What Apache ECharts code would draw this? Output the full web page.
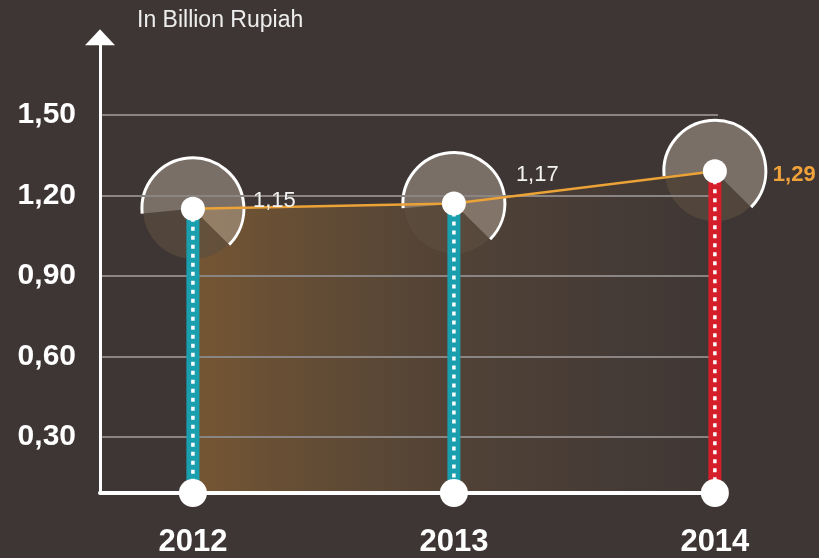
<!DOCTYPE html>
<html>
<head>
<meta charset="utf-8">
<script src="https://cdn.jsdelivr.net/npm/echarts@6/dist/echarts.min.js"></script>
<style>
  html, body { margin: 0; padding: 0; background: #3e3634; }
  #chart { width: 819px; height: 558px; }
</style>
</head>
<body>
<div id="chart"></div>
<script>
// ---- data ----
const years = [2012, 2013, 2014];
const values = [1.15, 1.17, 1.29];
const yTicks = [0.30, 0.60, 0.90, 1.20, 1.50];
const unitLabel = 'In Billion Rupiah';

// ---- styling ----
const barColors = ['#1a9fae', '#1a9fae', '#d41f2a'];
const labelOffsets = [[48, -8], [50, -28], [46, 4]];
const labelColors = ['#f2f2f2', '#f2f2f2', '#f0a23a'];
const labelWeights = ['normal', 'normal', 'bold'];

const Y_MIN = 0.09, Y_MAX = 1.79;
const FONT = "'Liberation Sans', Arial, sans-serif";
const fmt = v => v.toFixed(2).replace('.', ',');

const points = years.map((y, i) => [y, values[i]]);
const basePoints = years.map(y => [y, Y_MIN]);

const chart = echarts.init(document.getElementById('chart'));

// Highlight disc with a white arc around each top point
function renderDisc(params, api) {
  const c = api.coord([api.value(0), api.value(1)]);
  const R = 50;
  const a0 = Math.PI * 0.97;
  const a1 = Math.PI * 2 + 0.78;
  return {
    type: 'group',
    children: [
      { type: 'sector', shape: { cx: c[0], cy: c[1], r0: 0, r: R, startAngle: 0.78, endAngle: a0, clockwise: true },
        style: { fill: 'rgba(92,78,64,0.65)' } },
      { type: 'sector', shape: { cx: c[0], cy: c[1], r0: 0, r: R, startAngle: a0, endAngle: a1, clockwise: true },
        style: { fill: 'rgba(182,167,153,0.5)' } },
      { type: 'arc', shape: { cx: c[0], cy: c[1], r: R + 1, startAngle: a0, endAngle: a1, clockwise: true },
        style: { stroke: '#ffffff', lineWidth: 3, fill: null } }
    ]
  };
}

// Vertical bar with a dashed white centre line
function renderBar(params, api) {
  const x = api.value(0), v = api.value(1);
  const top = api.coord([x, v]);
  const bot = api.coord([x, Y_MIN]);
  const w = 13;
  return {
    type: 'group',
    children: [
      { type: 'rect', shape: { x: top[0] - w / 2, y: top[1], width: w, height: bot[1] - top[1] },
        style: { fill: barColors[params.dataIndex] } },
      { type: 'line', shape: { x1: top[0], y1: top[1], x2: bot[0], y2: bot[1] },
        style: { stroke: '#ffffff', lineWidth: 3.5, lineDash: [4, 5] } }
    ]
  };
}

chart.setOption({
  backgroundColor: '#3e3634',
  animation: false,
  title: {
    text: unitLabel,
    left: 137, top: 9, padding: 0,
    textStyle: { color: '#eeeeee', fontSize: 23, fontWeight: 'normal', fontFamily: FONT }
  },
  grid: { left: 100, right: 101, top: 37.2, bottom: 64.7, containLabel: false },
  xAxis: {
    type: 'value',
    min: 2011.644, max: 2014.012,
    z: 1,
    axisLine: { onZero: false, lineStyle: { color: '#ffffff', width: 4 } },
    axisTick: { show: false },
    splitLine: { show: false },
    axisLabel: {
      customValues: years,
      formatter: v => String(v),
      color: '#ffffff', fontSize: 31, fontWeight: 'bold', fontFamily: FONT, margin: 34
    }
  },
  yAxis: {
    type: 'value',
    min: Y_MIN, max: Y_MAX,
    z: 1,
    axisLine: { show: true, symbol: ['none', 'triangle'], symbolSize: [30, 16],
      lineStyle: { color: '#ffffff', width: 3 } },
    axisTick: { show: false, customValues: yTicks },
    splitLine: { show: true, lineStyle: { color: '#8a8582', width: 2 } },
    axisLabel: {
      customValues: yTicks,
      formatter: v => fmt(v),
      color: '#ffffff', fontSize: 30, fontWeight: 'bold', fontFamily: FONT, margin: 24
    }
  },
  series: [
    {
      // gradient area under the trend
      type: 'line', data: points, z: 0, symbol: 'none', silent: true,
      lineStyle: { width: 0 },
      areaStyle: {
        origin: 'start',
        color: new echarts.graphic.LinearGradient(0, 0, 1, 0, [
          { offset: 0, color: 'rgba(155,108,50,0.85)' },
          { offset: 0.55, color: 'rgba(130,98,60,0.35)' },
          { offset: 1, color: 'rgba(120,95,70,0.04)' }
        ])
      }
    },
    { type: 'custom', data: points, z: 0.5, renderItem: renderDisc, silent: true },
    { type: 'custom', data: points, z: 2, renderItem: renderBar, silent: true },
    {
      type: 'line', data: points, z: 3, symbol: 'none', silent: true,
      lineStyle: { color: '#eba237', width: 2.5 }
    },
    {
      type: 'scatter', data: basePoints, z: 4, symbol: 'circle', symbolSize: 28, silent: true,
      itemStyle: { color: '#ffffff', opacity: 1 }
    },
    {
      type: 'scatter', z: 5, symbol: 'circle', symbolSize: 24, silent: true,
      itemStyle: { color: '#ffffff', opacity: 1 },
      data: points.map((p, i) => ({
        value: p,
        label: {
          show: true, position: 'right', distance: 0,
          offset: labelOffsets[i],
          formatter: () => fmt(values[i]),
          color: labelColors[i], fontWeight: labelWeights[i],
          fontSize: 22, fontFamily: FONT
        }
      }))
    }
  ]
});
</script>
</body>
</html>
